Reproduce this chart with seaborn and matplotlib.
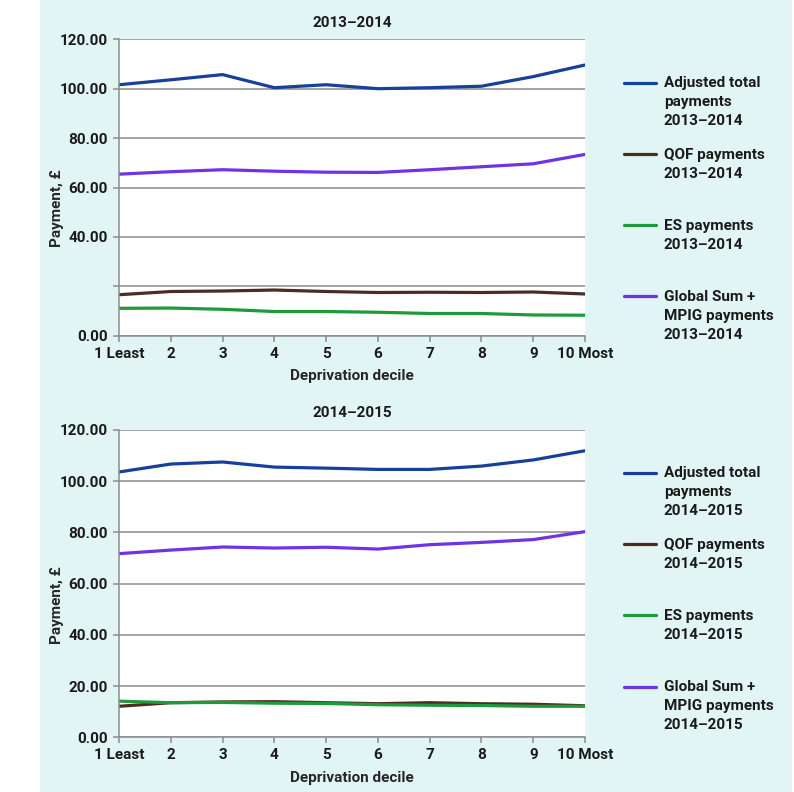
import numpy as np
import pandas as pd
import seaborn as sns
import matplotlib.pyplot as plt
from matplotlib.patches import Rectangle

# Values
deciles = [1, 2, 3, 4, 5, 6, 7, 8, 9, 10]
decile_labels = ["1 Least", "2", "3", "4", "5", "6", "7", "8", "9", "10 Most"]

adjusted_1314 = [101.6, 103.6, 105.7, 100.4, 101.6, 100.0, 100.4, 101.0, 104.9, 109.6]
qof_1314 = [16.6, 17.9, 18.1, 18.5, 17.9, 17.5, 17.6, 17.5, 17.7, 16.9]
es_1314 = [11.1, 11.2, 10.7, 9.8, 9.8, 9.5, 9.0, 9.0, 8.4, 8.3]
global_1314 = [65.4, 66.4, 67.2, 66.6, 66.2, 66.1, 67.2, 68.4, 69.6, 73.4]

adjusted_1415 = [103.6, 106.7, 107.5, 105.5, 105.1, 104.6, 104.6, 105.9, 108.3, 111.9]
qof_1415 = [12.1, 13.5, 13.8, 13.9, 13.5, 13.1, 13.5, 13.1, 12.9, 12.3]
es_1415 = [14.1, 13.5, 13.6, 13.3, 13.2, 12.7, 12.5, 12.4, 12.1, 12.1]
global_1415 = [71.7, 73.1, 74.3, 73.9, 74.2, 73.5, 75.2, 76.1, 77.2, 80.3]

series_names = ["Adjusted total", "QOF", "ES", "Global Sum + MPIG"]
legend_1314 = ["Adjusted total\npayments\n2013–2014", "QOF payments\n2013–2014",
               "ES payments\n2013–2014", "Global Sum +\nMPIG payments\n2013–2014"]
legend_1415 = ["Adjusted total\npayments\n2014–2015", "QOF payments\n2014–2015",
               "ES payments\n2014–2015", "Global Sum +\nMPIG payments\n2014–2015"]

yticks = [0, 20, 40, 60, 80, 100, 120]
yticklabels_1314 = ["0.00", "", "40.00", "60.00", "80.00", "100.00", "120.00"]
yticklabels_1415 = ["0.00", "20.00", "40.00", "60.00", "80.00", "100.00", "120.00"]

colours = {"Adjusted total": "#17409A", "QOF": "#4A2C22",
           "ES": "#1E9A3A", "Global Sum + MPIG": "#6E33E6"}


def long_form(series_list):
    frames = []
    for name, vals in zip(series_names, series_list):
        frames.append(pd.DataFrame({"decile": deciles, "payment": vals, "series": name}))
    return pd.concat(frames, ignore_index=True)


data_1314 = long_form([adjusted_1314, qof_1314, es_1314, global_1314])
data_1415 = long_form([adjusted_1415, qof_1415, es_1415, global_1415])

# %%
sns.set_style("white")
plt.rcParams["font.family"] = ["Roboto", "DejaVu Sans"]
plt.rcParams["font.weight"] = "bold"
plt.rcParams["font.size"] = 11
plt.rcParams["text.color"] = "#1A1A1A"

fig = plt.figure(figsize=(7.94, 7.92), dpi=100, facecolor="white")
fig.patches.append(Rectangle((40 / 794, 0), 1 - 42 / 794, 1, transform=fig.transFigure,
                             facecolor="#E1F5F5", edgecolor="none", zorder=-10))

ax_top = fig.add_axes([0.1499, 0.5761, 0.5869, 0.3743])
ax_bot = fig.add_axes([0.1499, 0.0691, 0.5869, 0.3880])


def pad_label(text):
    # fill to 3 lines so every legend entry takes the same height
    lines = text.split("\n")
    return "\n".join(lines + [""] * (3 - len(lines)))


panels = [(ax_top, data_1314, "2013–2014", yticklabels_1314, legend_1314, 0.9037),
          (ax_bot, data_1415, "2014–2015", yticklabels_1415, legend_1415, 0.4112)]

for ax, df, title, ylabels, leg_labels, leg_top in panels:
    sns.lineplot(data=df, x="decile", y="payment", hue="series", hue_order=series_names,
                 palette=colours, linewidth=2.3, ax=ax)
    ax.set_facecolor("white")
    ax.set_xlim(1, 10)
    ax.set_ylim(0, 120)
    ax.set_yticks(yticks)
    ax.set_yticklabels(ylabels)
    ax.set_xticks(deciles)
    ax.set_xticklabels(decile_labels)
    ax.grid(axis="y", color="#8C8C8C", linewidth=1.1)
    ax.set_axisbelow(True)
    for side in ["top", "right"]:
        ax.spines[side].set_visible(False)
    for side in ["left", "bottom"]:
        ax.spines[side].set_color("#8C8C8C")
        ax.spines[side].set_linewidth(1.1)
    ax.tick_params(axis="both", length=4, width=1.1, color="#8C8C8C", pad=4,
                   labelsize=11, labelcolor="#1A1A1A", left=True, bottom=True)
    ax.set_title(title, fontsize=11, fontweight="bold", pad=9)
    ax.set_xlabel("Deprivation decile", fontsize=11, fontweight="bold", labelpad=6)
    ax.set_ylabel("Payment, £", fontsize=11, fontweight="bold")
    ax.yaxis.set_label_coords(-0.118, 0.43)

    handles, _ = ax.get_legend_handles_labels()
    ax.get_legend().remove()
    leg = fig.legend(handles, [pad_label(t) for t in leg_labels], loc="upper left",
                     bbox_to_anchor=(0.786, leg_top), frameon=False, borderpad=0,
                     borderaxespad=0, handlelength=2.1, handleheight=1.1,
                     handletextpad=0.5, labelspacing=1.27, fontsize=11)
    for t in leg.get_texts():
        t.set_linespacing(1.45)
    # put the line level with the first line of each label
    for col in leg._legend_handle_box.get_children():
        for item in col.get_children():
            item.align = "top"

fig.savefig("out.png", dpi=100, facecolor="white")
